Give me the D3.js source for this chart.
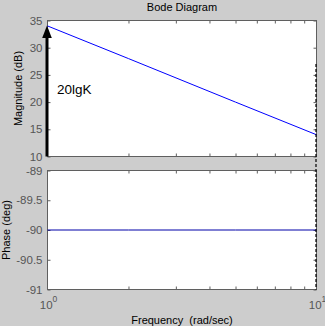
<!DOCTYPE html>
<html>
<head>
<meta charset="utf-8">
<script src="https://cdn.jsdelivr.net/npm/d3@7/dist/d3.min.js"></script>
<style>
  html, body { margin: 0; padding: 0; background: #cdcdcd; }
  svg { display: block; font-family: "Liberation Sans", Arial, sans-serif; }
</style>
</head>
<body>
<svg id="chart" width="325" height="326"></svg>
<script>
// Frequency samples (rad/sec) and the magnitude / phase read at them
const freq = [1, 2, 5, 10];
const magnitudeDb = [34, 28, 20, 14];
const phaseDeg = [-90, -90, -90, -90];

// Gain marker: 20lgK at w = 1
const gainDb = 34;
const gainLabel = "20lgK";

// Axis ticks
const magTicks = [10, 15, 20, 25, 30, 35];
const phaseTicks = [-91, -90.5, -90, -89.5, -89];
const phaseTickLabels = ["-91", "-90.5", "-90", "-89.5", "-89"];
const freqMinorTicks = [2, 3, 4, 5, 6, 7, 8, 9];
const freqDecades = [1, 10];
const decadeExponents = ["0", "1"];

// Dashed marker at the upper frequency bound
const dashedTopDb = 27;

const svg = d3.select("#chart");
const W = 325, H = 326;
const axisColor = "#5f5f5f";
const tickText = "#555555";

svg.append("rect").attr("width", W).attr("height", H).attr("fill", "#cdcdcd");

const x = d3.scaleLog().domain([1, 10]).range([47.5, 316.5]);
const yMag = d3.scaleLinear().domain([10, 35]).range([156.5, 20.5]);
const yPh = d3.scaleLinear().domain([-91, -89]).range([289.5, 170.5]);

function panel(y, ticks, labels) {
  const [y0, y1] = y.range();
  const g = svg.append("g");
  g.append("rect")
    .attr("x", x(1)).attr("y", y1)
    .attr("width", x(10) - x(1)).attr("height", y0 - y1)
    .attr("fill", "#ffffff");
  // left / right ticks (inside)
  const left = d3.axisRight(y).tickValues(ticks).tickSize(3).tickFormat("");
  const right = d3.axisLeft(y).tickValues(ticks).tickSize(3).tickFormat("");
  g.append("g").attr("transform", `translate(${x(1)},0)`).call(left);
  g.append("g").attr("transform", `translate(${x(10)},0)`).call(right);
  // top / bottom ticks (inside)
  const bottom = d3.axisTop(x).tickValues(freqMinorTicks).tickSize(3).tickFormat("");
  const top = d3.axisBottom(x).tickValues(freqMinorTicks).tickSize(3).tickFormat("");
  g.append("g").attr("transform", `translate(0,${y0})`).call(bottom);
  g.append("g").attr("transform", `translate(0,${y1})`).call(top);
  g.selectAll(".domain").remove();
  g.selectAll(".tick line").attr("stroke", axisColor);
  // frame
  g.append("rect")
    .attr("x", x(1)).attr("y", y1)
    .attr("width", x(10) - x(1)).attr("height", y0 - y1)
    .attr("fill", "none").attr("stroke", axisColor).attr("stroke-width", 1);
  // tick labels
  g.selectAll("text.ylab").data(ticks).join("text")
    .attr("class", "ylab")
    .attr("x", x(1) - 5)
    .attr("y", d => y(d))
    .attr("dy", "0.36em")
    .attr("text-anchor", "end")
    .attr("font-size", 11.5)
    .attr("fill", tickText)
    .text((d, i) => labels ? labels[i] : d);
  return g;
}

const magPanel = panel(yMag, magTicks, null);
const phPanel = panel(yPh, phaseTicks, phaseTickLabels);

// Magnitude curve
const magLine = d3.line().x((d, i) => x(freq[i])).y(d => yMag(d));
svg.append("path")
  .datum(magnitudeDb)
  .attr("d", magLine)
  .attr("fill", "none")
  .attr("stroke", "#0000ff")
  .attr("stroke-width", 1);

// Phase curve
const phLine = d3.line().x((d, i) => x(freq[i])).y(d => yPh(d));
svg.append("path")
  .datum(phaseDeg)
  .attr("d", phLine)
  .attr("fill", "none")
  .attr("stroke", "#0000a8")
  .attr("stroke-width", 1);

// Dashed line at the upper frequency bound
svg.append("line")
  .attr("x1", x(10) - 0.5).attr("x2", x(10) - 0.5)
  .attr("y1", yMag(dashedTopDb)).attr("y2", yPh(-91))
  .attr("stroke", "#000000")
  .attr("stroke-width", 1.2)
  .attr("stroke-dasharray", "3,2");

// 20lgK arrow
const ax = x(1) - 0.5;
const tipY = yMag(gainDb);
svg.append("line")
  .attr("x1", ax).attr("x2", ax)
  .attr("y1", yMag(10)).attr("y2", tipY + 10)
  .attr("stroke", "#000").attr("stroke-width", 3);
svg.append("path")
  .attr("d", `M${ax},${tipY - 0.5} L${ax - 4.8},${tipY + 12} L${ax + 4.8},${tipY + 12} Z`)
  .attr("fill", "#000");
svg.append("text")
  .attr("x", 57).attr("y", 93.5)
  .attr("font-size", 13.5)
  .attr("fill", "#000")
  .text(gainLabel);

// Decade labels on the frequency axis
const dec = svg.selectAll("text.xlab").data(freqDecades).join("text")
  .attr("class", "xlab")
  .attr("x", d => x(d) + 1)
  .attr("y", 309)
  .attr("text-anchor", "middle")
  .attr("font-size", 11.5)
  .attr("fill", tickText);
dec.append("tspan").text("10");
dec.append("tspan")
  .attr("dy", -7)
  .attr("font-size", 8.5)
  .text((d, i) => decadeExponents[i]);

// Title and axis titles
svg.append("text")
  .attr("x", (x(1) + x(10)) / 2).attr("y", 10.5)
  .attr("text-anchor", "middle")
  .attr("font-size", 11)
  .attr("fill", "#000")
  .text("Bode Diagram");

svg.append("text")
  .attr("transform", `translate(21.5,${(yMag(10) + yMag(35)) / 2}) rotate(-90)`)
  .attr("text-anchor", "middle")
  .attr("font-size", 11)
  .attr("fill", "#000")
  .text("Magnitude (dB)");

svg.append("text")
  .attr("transform", `translate(9.5,${(yPh(-91) + yPh(-89)) / 2}) rotate(-90)`)
  .attr("text-anchor", "middle")
  .attr("font-size", 11)
  .attr("fill", "#000")
  .text("Phase (deg)");

svg.append("text")
  .attr("x", (x(1) + x(10)) / 2).attr("y", 323.5)
  .attr("text-anchor", "middle")
  .attr("font-size", 11)
  .attr("fill", "#000")
  .attr("xml:space", "preserve")
  .style("white-space", "pre")
  .text("Frequency  (rad/sec)");
</script>
</body>
</html>
